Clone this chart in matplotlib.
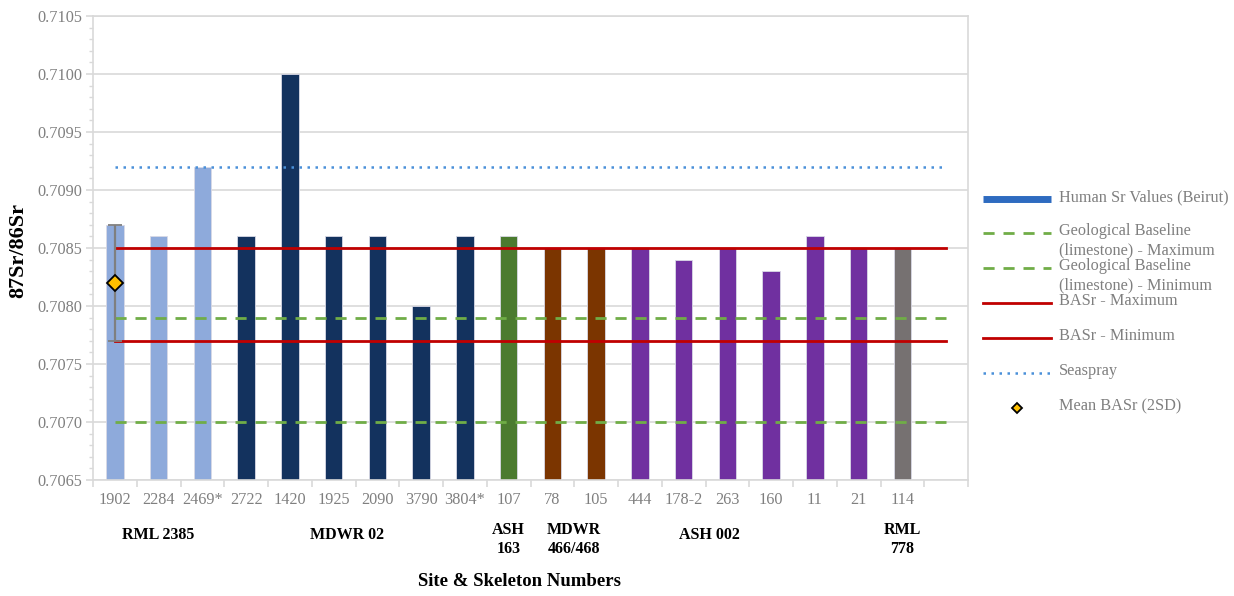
import numpy as np
import matplotlib
matplotlib.use("Agg")
import matplotlib.pyplot as plt
from matplotlib.ticker import MultipleLocator, FixedLocator, NullFormatter

plt.rcParams['font.family'] = ['Liberation Serif', 'DejaVu Serif']

# skeleton numbers and 87Sr/86Sr values
skeletons = ['1902', '2284', '2469*', '2722', '1420', '1925', '2090', '3790', '3804*',
             '107', '78', '105', '444', '178-2', '263', '160', '11', '21', '114']
sr_values = [0.7087, 0.7086, 0.7092, 0.7086, 0.7100, 0.7086, 0.7086, 0.7080, 0.7086,
             0.7086, 0.7085, 0.7085, 0.7085, 0.7084, 0.7085, 0.7083, 0.7086, 0.7085, 0.7085]
sites = ['RML 2385'] * 3 + ['MDWR 02'] * 6 + ['ASH 163'] + ['MDWR 466/468'] * 2 + \
        ['ASH 002'] * 6 + ['RML 778']

site_colors = {'RML 2385': '#8eaadb', 'MDWR 02': '#13325e', 'ASH 163': '#4b7b2f',
               'MDWR 466/468': '#7b3500', 'ASH 002': '#7030a0', 'RML 778': '#767171'}

# group captions under the axis: (text, position in category units)
group_labels = [('RML 2385', 1.0), ('MDWR 02', 5.3), ('ASH\n163', 9.0),
                ('MDWR\n466/468', 10.5), ('ASH 002', 13.6), ('RML\n778', 18.0)]

geo_max = 0.7079
geo_min = 0.7070
basr_max = 0.7085
basr_min = 0.7077
seaspray = 0.7092
basr_mean = 0.7082
basr_2sd = 0.0005

n_slots = 20  # one empty slot after the last skeleton

fig = plt.figure(figsize=(12.34, 5.96), dpi=100)
ax = fig.add_axes([93/1234, 1 - 480/596, 875/1234, 464/596])

x = np.arange(len(skeletons))
colors = [site_colors[s] for s in sites]
ax.bar(x, np.array(sr_values) - 0.7065, bottom=0.7065, width=0.4, color=colors,
       edgecolor='#d9d9e6', linewidth=0.6, zorder=2)

line_x = [0, n_slots - 1]
ax.plot(line_x, [geo_max] * 2, color='#70ad47', lw=2, dashes=(4, 3.2), zorder=3)
ax.plot(line_x, [geo_min] * 2, color='#70ad47', lw=2, dashes=(4, 3.2), zorder=3)
ax.plot(line_x, [basr_max] * 2, color='#c00000', lw=2, zorder=3)
ax.plot(line_x, [basr_min] * 2, color='#c00000', lw=2, zorder=3)
ax.plot(line_x, [seaspray] * 2, color='#4a90d9', lw=1.8, dashes=(1, 2.2), zorder=3)

ax.errorbar([0], [basr_mean], yerr=[basr_2sd], fmt='D', color='#7f7f7f', ms=8,
            mfc='#ffc000', mec='black', mew=1.3, capsize=5, elinewidth=1.6,
            capthick=1.6, zorder=4)

ax.set_xlim(-0.5, n_slots - 0.5)
ax.set_ylim(0.7065, 0.7105)
ax.yaxis.set_major_locator(MultipleLocator(0.0005))
ax.yaxis.set_minor_locator(MultipleLocator(0.0001))
ax.yaxis.set_major_formatter(matplotlib.ticker.FormatStrFormatter('%.4f'))
ax.grid(axis='y', which='major', color='#d9d9d9', lw=1.2, zorder=0)

ax.xaxis.set_major_locator(FixedLocator(np.arange(n_slots + 1) - 0.5))
ax.xaxis.set_major_formatter(NullFormatter())
ax.xaxis.set_minor_locator(FixedLocator(x))
ax.set_xticklabels(skeletons, minor=True)
ax.tick_params(axis='x', which='major', length=5, color='#d9d9d9', width=1.2)
ax.tick_params(axis='x', which='minor', length=0, pad=9, labelsize=11.7,
               labelcolor='#7f7f7f')
ax.tick_params(axis='y', which='major', length=5, color='#d9d9d9', width=1.2,
               labelsize=11.7, labelcolor='#7f7f7f', pad=3)
ax.tick_params(axis='y', which='minor', length=3, color='#d9d9d9', width=1)
for sp in ax.spines.values():
    sp.set_color('#d9d9d9')
    sp.set_linewidth(1.2)

fig.text(18/1234, 1 - 250/596, '87Sr/86Sr', fontsize=16, fontweight='bold',
         rotation=90, ha='center', va='center')
fig.text(520/1234, 1 - 582/596, 'Site & Skeleton Numbers', fontsize=13.5,
         fontweight='bold', ha='center', va='center')

for text, pos in group_labels:
    if '\n' in text:
        ax.text(pos, -0.129, text, transform=ax.get_xaxis_transform(), ha='center',
                va='center', fontsize=11.5, fontweight='bold', linespacing=1.25)
    else:
        ax.text(pos, -0.118, text, transform=ax.get_xaxis_transform(), ha='center',
                va='center', fontsize=11.5, fontweight='bold')

# legend drawn by hand on the right
lg = fig.add_axes([0, 0, 1, 1], facecolor='none')
lg.set_xlim(0, 1234)
lg.set_ylim(596, 0)
lg.axis('off')
h0, h1, tx = 983, 1051, 1059
lg.plot([h0, h1], [199, 199], color='#2e6bc0', lw=5, solid_capstyle='butt')
lg.plot([h0, h1], [233, 233], color='#70ad47', lw=2, dashes=(4, 3.2))
lg.plot([h0, h1], [268, 268], color='#70ad47', lw=2, dashes=(4, 3.2))
lg.plot([h0, h1], [303, 303], color='#c00000', lw=2)
lg.plot([h0, h1], [338, 338], color='#c00000', lw=2)
lg.plot([h0, h1], [373, 373], color='#4a90d9', lw=1.8, dashes=(1, 2.2))
lg.plot([(h0 + h1) / 2], [408], 'D', ms=5, mfc='#ffc000', mec='black', mew=1.3)
legend_rows = [('Human Sr Values (Beirut)', 199),
               ('Geological Baseline\n(limestone) - Maximum', 233),
               ('Geological Baseline\n(limestone) - Minimum', 268),
               ('BASr - Maximum', 303), ('BASr - Minimum', 338),
               ('Seaspray', 373), ('Mean BASr (2SD)', 408)]
for label, yy in legend_rows:
    lg.text(tx, yy - 10, label, ha='left', va='top', fontsize=11.7, color='#7f7f7f',
            linespacing=1.3)

fig.savefig('out.png', dpi=100)
